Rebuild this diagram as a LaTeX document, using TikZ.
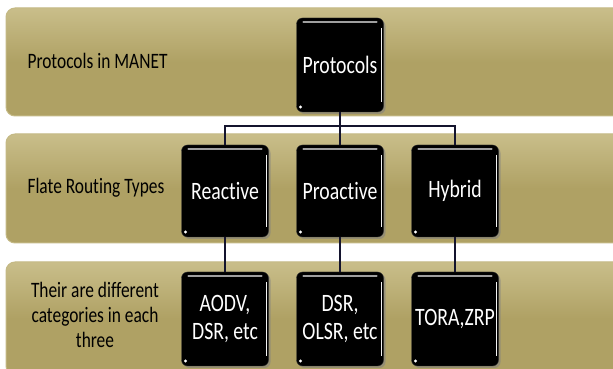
\documentclass[tikz,border=0pt]{standalone}
\usepackage{fontspec}
\setmainfont[FakeStretch=0.79, Ligatures=NoCommon]{Carlito}
\usetikzlibrary{shadows}

\definecolor{bandolive}{HTML}{AFA164}
\definecolor{bandtop}{HTML}{C9BE8A}
\definecolor{bandedge}{HTML}{C4B985}
\definecolor{linknavy}{HTML}{14142E}

\tikzset{
  band/.style={draw=bandedge, line width=1pt, rounded corners=9pt,
    top color=bandtop, bottom color=bandolive, middle color=bandolive},
  rowlabel/.style={font=\fontsize{22}{25}\selectfont, align=center, text=black},
  protobox/.style={fill=black, draw=black!80, rounded corners=6pt,
    minimum width=87pt, minimum height=94pt, inner sep=2pt,
    text=white, align=center, font=\fontsize{25}{28}\selectfont,
    drop shadow={shadow xshift=2pt, shadow yshift=-2pt, opacity=0.55},
    path picture={
      \draw[gray!75, line width=2.5pt, line cap=round]
        ([xshift=7pt,yshift=-4pt]path picture bounding box.north west) --
        ([xshift=-7pt,yshift=-4pt]path picture bounding box.north east);
      \draw[white!90!gray, line width=1.2pt]
        ([xshift=-2pt,yshift=-10pt]path picture bounding box.north east) --
        ([xshift=-2pt,yshift=10pt]path picture bounding box.south east);
      \fill[white] ([xshift=4pt,yshift=5pt]path picture bounding box.south west) circle (1.6pt);
    }},
  link/.style={draw=linknavy, line width=1.6pt}
}

\begin{document}
\begin{tikzpicture}[x=1pt, y=1pt]
  \useasboundingbox (0,0) rectangle (613,369);

  % bands
  \draw[band] (6,253) rectangle (640,361);
  \draw[band] (6,126) rectangle (640,235);
  \draw[band] (6,-6) rectangle (640,107);

  % band texts
  \node[rowlabel, anchor=west] (lblproto) at (24,308) {Protocols in MANET};
  \node[rowlabel, anchor=west] (lbltypes) at (24,181) {Flate Routing Types};
  \node[rowlabel] (lblcat) at (95,54) {Their are different\\categories in each\\three};

  % boxes
  \node[protobox] (proto) at (340,304) {Protocols};
  \node[protobox, minimum height=92pt] (reactive) at (225,178) {Reactive};
  \node[protobox, minimum height=92pt] (proactive) at (340,178) {Proactive};
  \node[protobox, minimum height=92pt] (hybrid) at (455,178) {Hybrid};
  \node[protobox] (aodv) at (225,50) {AODV,\\DSR, etc};
  \node[protobox] (olsr) at (340,50) {DSR,\\OLSR, etc};
  \node[protobox] (tora) at (455,50) {TORA,ZRP};

  % connectors
  \draw[link] (proto.south) -- ([yshift=-14pt]proto.south) coordinate (split);
  \draw[link] (split) -| (reactive.north);
  \draw[link] (split) -| (hybrid.north);
  \draw[link] (split) -- (proactive.north);
  \draw[link] (reactive.south) -- (aodv.north);
  \draw[link] (proactive.south) -- (olsr.north);
  \draw[link] (hybrid.south) -- (tora.north);
\end{tikzpicture}
\end{document}
